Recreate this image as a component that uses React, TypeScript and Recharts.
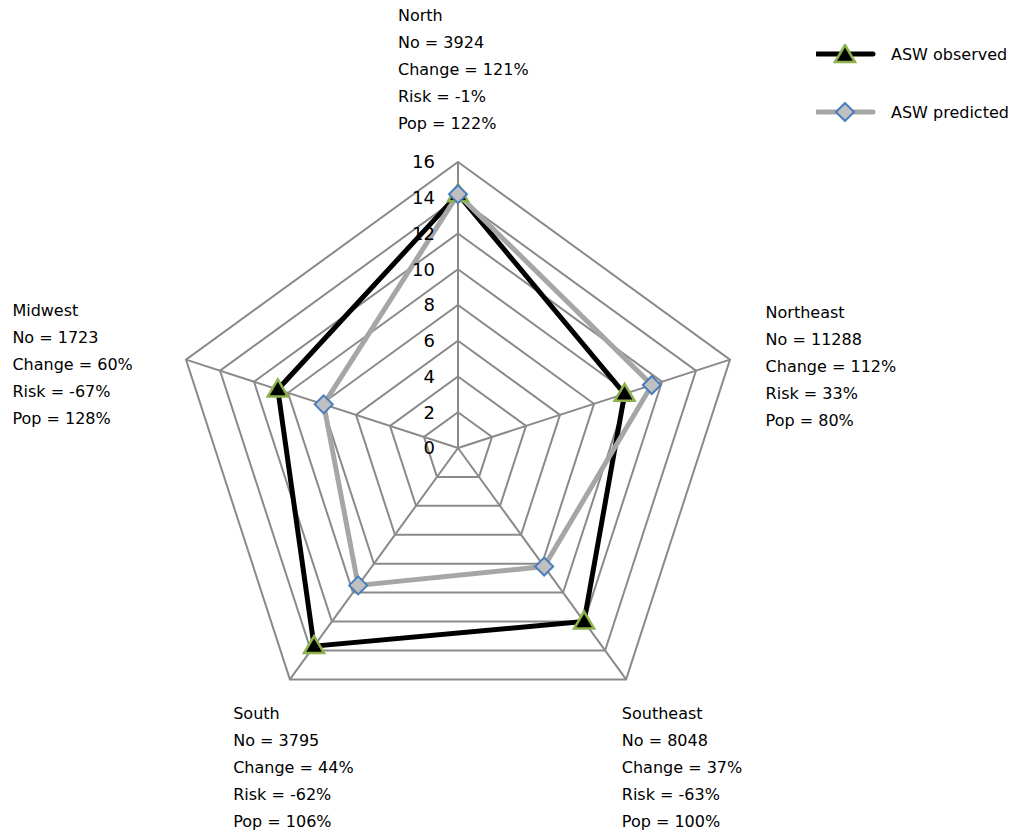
import React from "react";
import { RadarChart, Radar, PolarGrid, PolarAngleAxis, PolarRadiusAxis, Legend } from "recharts";

const categories = ["North", "Northeast", "Southeast", "South", "Midwest"];
const observed = [14.2, 9.8, 12.0, 13.7, 10.6];
const predicted = [14.2, 11.4, 8.2, 9.5, 7.9];
const counts = ["3924", "11288", "8048", "3795", "1723"];
const changes = ["121%", "112%", "37%", "44%", "60%"];
const risks = ["-1%", "33%", "-63%", "-62%", "-67%"];
const pops = ["122%", "80%", "100%", "106%", "128%"];
const radiusTicks = [0, 2, 4, 6, 8, 10, 12, 14, 16];

const data = categories.map((c, i) => ({
  region: c,
  observed: observed[i],
  predicted: predicted[i],
}));

const FONT = "'DejaVu Sans', Verdana, sans-serif";
const GRID = "#8a8a8a";

// label offsets (first line) relative to the axis tick point
const labelOffsets: Record<string, [number, number]> = {
  North: [-60, -139],
  Northeast: [28, -45],
  Southeast: [-9, 27],
  South: [-52, 27],
  Midwest: [-166, -47],
};

const AngleTick = (props: any) => {
  const { x, y, payload } = props;
  const name = payload.value as string;
  const i = categories.indexOf(name);
  const [dx, dy] = labelOffsets[name] || [0, 0];
  const lines = [
    name,
    `No = ${counts[i]}`,
    `Change = ${changes[i]}`,
    `Risk = ${risks[i]}`,
    `Pop = ${pops[i]}`,
  ];
  return (
    <text x={x + dx} y={y + dy} fontFamily={FONT} fontSize={16} fill="#000" textAnchor="start">
      {lines.map((l, k) => (
        <tspan key={k} x={x + dx} y={y + dy + k * 27} dy="0.36em">
          {l}
        </tspan>
      ))}
    </text>
  );
};

const RadiusTick = (props: any) => {
  const { x, y, payload } = props;
  return (
    <text x={x - 23} y={y} dy="0.36em" textAnchor="end" fontFamily={FONT} fontSize={18} fill="#000">
      {payload.value}
    </text>
  );
};

const Tri = (props: any) => {
  const { cx, cy } = props;
  if (cx == null || cy == null) return null;
  return (
    <path
      d={`M${cx},${cy - 10} L${cx + 10},${cy + 7} L${cx - 10},${cy + 7} Z`}
      fill="#000"
      stroke="#8db14b"
      strokeWidth={2.5}
    />
  );
};

const Diamond = (props: any) => {
  const { cx, cy } = props;
  if (cx == null || cy == null) return null;
  return (
    <path
      d={`M${cx},${cy - 9} L${cx + 9},${cy} L${cx},${cy + 9} L${cx - 9},${cy} Z`}
      fill="#c0c0c0"
      stroke="#4a7ebb"
      strokeWidth={2}
    />
  );
};

const legendItems = [
  { label: "ASW observed", color: "#000", marker: "tri" },
  { label: "ASW predicted", color: "#a6a6a6", marker: "diamond" },
];

const LegendContent = () => (
  <div style={{ fontFamily: FONT, fontSize: 16 }}>
    {legendItems.map((it, k) => (
      <div key={k} style={{ display: "flex", alignItems: "center", height: 20, marginBottom: k === 0 ? 38 : 0 }}>
        <svg width={60} height={20} style={{ display: "block" }}>
          <line x1={1} y1={10} x2={57} y2={10} stroke={it.color} strokeWidth={5} strokeLinecap="round" />
          {it.marker === "tri" ? <Tri cx={29} cy={11} /> : <Diamond cx={29} cy={10} />}
        </svg>
        <span style={{ marginLeft: 15, whiteSpace: "nowrap" }}>{it.label}</span>
      </div>
    ))}
  </div>
);

export default function App() {
  return (
    <div style={{ marginTop: -8, marginLeft: -8, width: 1018, height: 834 }}>
      <RadarChart
        width={1018}
        height={834}
        data={data}
        cx={458}
        cy={448}
        outerRadius={286}
        margin={{ top: 0, right: 0, bottom: 0, left: 0 }}
      >
        <PolarGrid gridType="polygon" stroke={GRID} strokeWidth={2} />
        <PolarAngleAxis dataKey="region" tick={AngleTick} tickLine={false} axisLine={false} tickSize={8} />
        <PolarRadiusAxis
          angle={90}
          domain={[0, 16]}
          ticks={radiusTicks as any}
          tickCount={9}
          axisLine={false}
          tick={RadiusTick}
          tickLine={false}
        />
        <Radar
          name="ASW observed"
          dataKey="observed"
          stroke="#000"
          strokeWidth={5}
          fill="none"
          fillOpacity={0}
          dot={Tri}
          isAnimationActive={false}
        />
        <Radar
          name="ASW predicted"
          dataKey="predicted"
          stroke="#a6a6a6"
          strokeWidth={5}
          fill="none"
          fillOpacity={0}
          dot={Diamond}
          isAnimationActive={false}
        />
        <Legend
          content={LegendContent}
          layout="vertical"
          align="right"
          verticalAlign="top"
          wrapperStyle={{ position: "absolute", top: 44, left: 816, width: 200 }}
        />
      </RadarChart>
    </div>
  );
}
